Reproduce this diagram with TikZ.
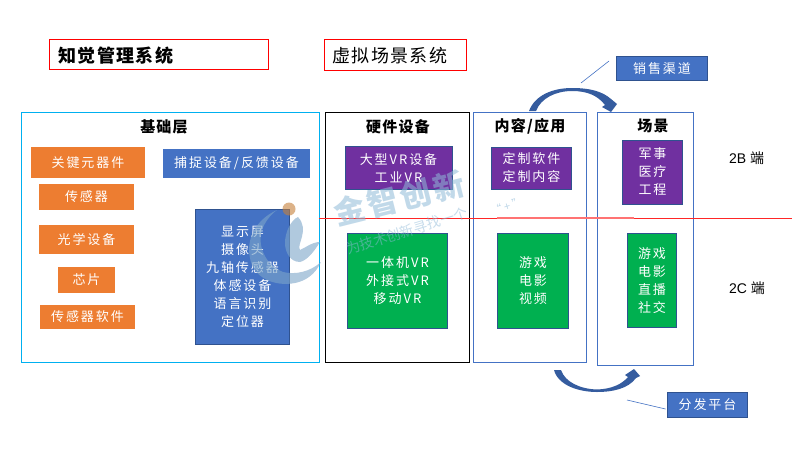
\documentclass[tikz,border=0pt]{standalone}
\usepackage{fontspec}
\setmainfont{Liberation Sans}
\newfontfamily\cjk{Noto Sans CJK SC}
\newfontfamily\cjkw[LetterSpace=15]{Noto Sans CJK SC}
\newfontfamily\cjkh[LetterSpace=8]{Noto Sans CJK SC}
\newfontfamily\cjkm[LetterSpace=10]{Noto Sans CJK SC}
\usetikzlibrary{calc}
\definecolor{oran}{HTML}{ED7D31}
\definecolor{blu}{HTML}{4472C4}
\definecolor{dblu}{HTML}{2F528F}
\definecolor{purp}{HTML}{7030A0}
\definecolor{grn}{HTML}{00B050}
\definecolor{cyanb}{HTML}{00B0F0}
\definecolor{wm}{HTML}{8FBAD8}
\tikzset{
  x=1pt,y=-1pt,
  panel/.style={draw=#1,line width=0.9pt,fill=none,inner sep=0pt,outer sep=0pt,anchor=north west},
  filled/.style={font=\cjkw\fontsize{13}{18}\selectfont,text=white,align=center,inner sep=0pt,outer sep=0pt},
  orangebox/.style={filled,fill=oran},
  bluebox/.style={filled,fill=blu,draw=dblu,line width=0.7pt},
  flatblue/.style={filled,fill=blu},
  purplebox/.style={filled,fill=purp,draw=dblu,line width=0.7pt},
  greenbox/.style={filled,fill=grn,draw=dblu,line width=0.7pt},
  head/.style={font=\cjkh\bfseries\fontsize{15}{18}\selectfont,text=black,inner sep=0pt},
  titlebox/.style={draw=red,line width=0.8pt,inner sep=0pt,outer sep=0pt,anchor=north west},
  titletext/.style={font=\cjkh\fontsize{18}{22}\selectfont,text=black,inner sep=0pt,anchor=west},
  side/.style={font=\fontsize{14}{16}\selectfont,text=black,inner sep=0pt},
  leader/.style={draw=blu,line width=0.6pt},
  swoosh/.style={fill=dblu!70!blu,draw=none},
  mark text/.style={text=wm,text opacity=0.7,inner sep=0pt},
}
\begin{document}
\begin{tikzpicture}
\useasboundingbox (0,0) rectangle (800,450);
\fill[white] (0,0) rectangle (800,450);
% panels
\node[panel=cyanb,minimum width=297.5pt,minimum height=249.5pt] (base) at (21.5,112.5) {};
\node[panel=black,minimum width=144pt,minimum height=249.5pt] (hw) at (325.5,112.5) {};
\node[panel=blu,minimum width=113pt,minimum height=249.5pt] (content) at (473.5,112.5) {};
\node[panel=blu,minimum width=96pt,minimum height=252.5pt] (scene) at (597.5,112.5) {};
% titles
\node[titlebox,minimum width=219pt,minimum height=30pt] (t1) at (49.5,39.5) {};
\node[titletext,font=\cjkh\bfseries\fontsize{18}{22}\selectfont] (t1t) at (58,56) {知觉管理系统};
\node[titlebox,minimum width=142pt,minimum height=31pt] (t2) at (324.5,39.5) {};
\node[titletext] (t2t) at (332,56) {虚拟场景系统};
% heads
\node[head] (h1) at (164,127) {基础层};
\node[head] (h2) at (398,127) {硬件设备};
\node[head] (h3) at (530,126) {内容/应用};
\node[head] (h4) at (653,126) {场景};
% orange
\node[orangebox,minimum width=114pt,minimum height=31pt] (o1) at (88,162.5) {关键元器件};
\node[orangebox,minimum width=95pt,minimum height=26pt] (o2) at (86.5,197) {传感器};
\node[orangebox,minimum width=95pt,minimum height=29pt] (o3) at (86.5,239.5) {光学设备};
\node[orangebox,minimum width=57pt,minimum height=26pt] (o4) at (86.5,280) {芯片};
\node[orangebox,minimum width=95pt,minimum height=24pt] (o5) at (87.5,317) {传感器软件};
% blue
\node[flatblue,minimum width=147pt,minimum height=29pt] (b1) at (236.5,163) {捕捉设备/反馈设备};
\node[bluebox,minimum width=94pt,minimum height=135pt] (b2) at (242.5,277) {显示屏\\摄像头\\九轴传感器\\体感设备\\语言识别\\定位器};
% purple
\node[purplebox,minimum width=107pt,minimum height=43pt] (p1) at (398.5,168) {大型VR设备\\工业VR};
\node[purplebox,minimum width=80pt,minimum height=42pt] (p2) at (531.5,168) {定制软件\\定制内容};
\node[purplebox,minimum width=60pt,minimum height=64pt] (p3) at (652.5,172) {军事\\医疗\\工程};
% green
\node[greenbox,minimum width=100pt,minimum height=95pt] (g1) at (397.5,281) {一体机VR\\外接式VR\\移动VR};
\node[greenbox,minimum width=71pt,minimum height=95pt] (g2) at (533,281) {游戏\\电影\\视频};
\node[greenbox,minimum width=49pt,minimum height=94pt] (g3) at (652,280.5) {游戏\\电影\\直播\\社交};
% divider
\coordinate (divL) at (319,218);
\coordinate (divM1) at (497,218);
\coordinate (divM2) at (634,218);
\coordinate (divR) at (792,218);
\draw[red!85!white,line width=0.8pt] (divL) -- (divM1);
\draw[red!55!white,line width=1.8pt] (divM1) -- (divM2);
\draw[red!85!white,line width=0.8pt] (divM2) -- (divR);
% side labels
\node[side] (s1) at (746.5,158) {2B {\cjk 端}};
\node[side] (s2) at (747,288) {2C {\cjk 端}};
% channel labels
\node[bluebox,minimum width=91pt,minimum height=24pt] (c1) at (662,68.5) {销售渠道};
\node[bluebox,minimum width=80pt,minimum height=25pt] (c2) at (707.5,404.5) {分发平台};
% big arrows
\fill[swoosh] (529,111) .. controls (535,95) and (553,88) .. (572,88)
  .. controls (589,88) and (602,91) .. (611,99) -- (617,104) -- (611,112) -- (602,107) -- (605,105)
  .. controls (598,96) and (588,91) .. (572,91)
  .. controls (556,91) and (541,98) .. (536,111) -- cycle;
\fill[swoosh] (554,370) .. controls (558,385) and (578,392) .. (597,392)
  .. controls (612,392) and (628,389) .. (636,378) -- (640,376) -- (634,369) -- (625,375) -- (628,377)
  .. controls (622,384) and (612,389) .. (597,389.5)
  .. controls (580,389) and (565,382) .. (561,370) -- cycle;
% leaders
\coordinate (l1a) at (581,83);
\coordinate (l2a) at (627,400);
\draw[leader] (l1a) -- ($(c1.west)+(-7.5,-7.5)$);
\draw[leader] (l2a) -- ($(c2.west)+(-2,4.5)$);
% watermark
\begin{scope}[opacity=0.6]
\fill[wm!80!dblu] (277,210) .. controls (255,220) and (246,240) .. (250,258)
  .. controls (253,278) and (275,287) .. (295,283)
  .. controls (305,281) and (315,275) .. (321,262)
  .. controls (310,272) and (295,275) .. (283,272)
  .. controls (265,265) and (257,245) .. (262,230)
  .. controls (265,222) and (270,215) .. (277,210) -- cycle;
\fill[wm!80!dblu] (298,217) .. controls (291,220) and (285,232) .. (285,243)
  .. controls (285,252) and (290,262) .. (300,262)
  .. controls (308,260) and (315,250) .. (320,242)
  .. controls (312,242) and (305,248) .. (300,250)
  .. controls (296,245) and (310,230) .. (298,217) -- cycle;
\fill[orange!55!gray] (289,209) circle (6.5pt);
\end{scope}
\node[mark text,rotate=14,text opacity=0.55,font=\cjkm\bfseries\fontsize{31}{34}\selectfont] (w1) at (399,198) {金智创新};
\node[mark text,rotate=17,text opacity=0.5,font=\cjk\fontsize{14}{16}\selectfont] (w2) at (407,231) {为技术创新寻找一个};
\node[mark text,rotate=17,text opacity=0.6,font=\cjk\fontsize{11}{14}\selectfont] (w3) at (507,206) {“ + ”};
\end{tikzpicture}
\end{document}
